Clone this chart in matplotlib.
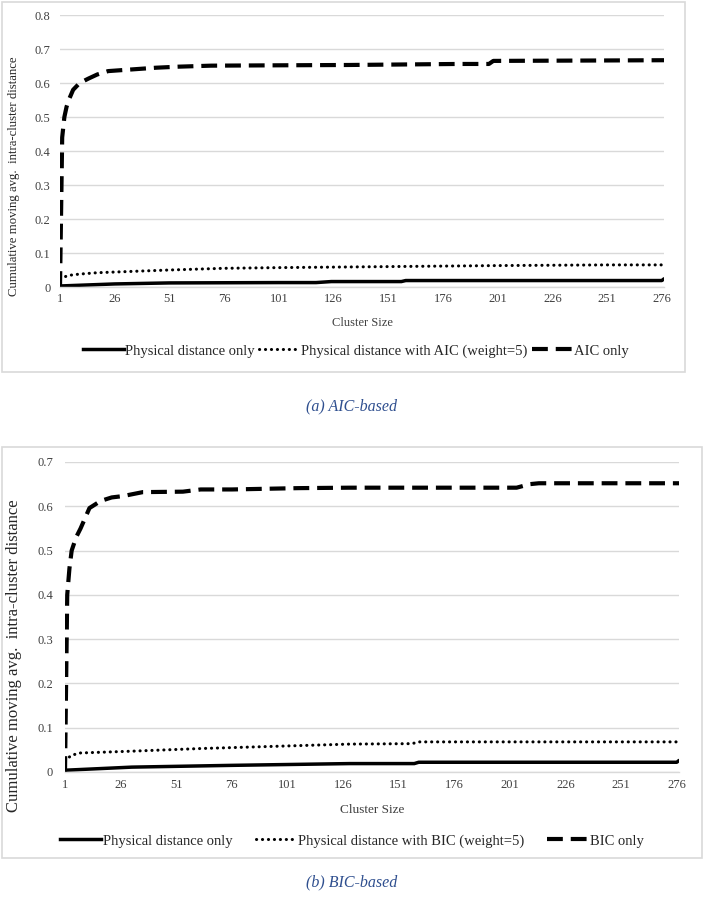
import matplotlib
matplotlib.use("Agg")
import matplotlib.pyplot as plt
from matplotlib.lines import Line2D
from matplotlib.patches import Rectangle

plt.rcParams['font.family'] = ['Liberation Serif', 'DejaVu Serif']

# ---------------- data ----------------
x_ticks = [1, 26, 51, 76, 101, 126, 151, 176, 201, 226, 251, 276]

# (a) AIC-based
aic_phys_x = [1, 26, 51, 101, 118, 125, 157, 159, 276, 277]
aic_phys_y = [0.003, 0.009, 0.012, 0.013, 0.013, 0.016, 0.016, 0.019, 0.019, 0.024]

aic_w_x = [1, 3, 6, 10, 18, 26, 51, 76, 101, 151, 201, 251, 276, 277]
aic_w_y = [0.025, 0.030, 0.035, 0.038, 0.042, 0.044, 0.050, 0.055, 0.057, 0.060, 0.063, 0.065, 0.065, 0.068]

aic_only_x = [1, 2, 3, 4, 5, 7, 10, 14, 18, 23, 34, 45, 55, 70, 100, 133, 183, 197, 199, 240, 277]
aic_only_y = [0.0, 0.44, 0.50, 0.53, 0.55, 0.58, 0.60, 0.613, 0.625, 0.635, 0.640, 0.645, 0.648,
              0.651, 0.652, 0.653, 0.656, 0.656, 0.665, 0.666, 0.667]

# (b) BIC-based
bic_phys_x = [1, 31, 76, 129, 158, 160, 276, 277]
bic_phys_y = [0.004, 0.011, 0.015, 0.019, 0.019, 0.022, 0.022, 0.026]

bic_w_x = [1, 2, 4, 8, 31, 62, 129, 157, 160, 276, 277]
bic_w_y = [0.025, 0.030, 0.038, 0.043, 0.047, 0.053, 0.063, 0.064, 0.068, 0.068, 0.074]

bic_only_x = [1, 2, 3, 4, 6, 8, 12, 17, 22, 27, 36, 54, 62, 76, 106, 129, 204, 210, 214, 277]
bic_only_y = [0.0, 0.40, 0.46, 0.50, 0.53, 0.55, 0.596, 0.612, 0.620, 0.623, 0.632, 0.633,
              0.638, 0.638, 0.641, 0.642, 0.642, 0.650, 0.652, 0.652]

# ---------------- figure ----------------
W, H = 703, 898
fig = plt.figure(figsize=(W / 100, H / 100), dpi=100)
GRID = '#D9D9D9'
CAPC = '#2F4F8F'
TXT = '#404040'

DOT_LW = 2.2
DOT = (0, (0.05, 1.9))
DASH = (0, (3.8, 1.9))


def fx(px):
    return px / W


def fy(py):
    return 1 - py / H


def frame(x0, y0, x1, y1):
    fig.patches.append(Rectangle((fx(x0), fy(y1)), fx(x1) - fx(x0), fy(y0) - fy(y1),
                                 transform=fig.transFigure, fill=False,
                                 edgecolor=GRID, linewidth=1.2, zorder=0))


def panel(rect_px, ymax, yticklabels, phys, w, only, wlabel, olabel,
          ypad, xpad, ylab_x, ylab_cy, fs_tick, fs_lab, fs_leg, fs_xlab,
          xlab_y, leg_y, leg_cx, colsp):
    x0, y0, x1, y1 = rect_px
    ax = fig.add_axes([fx(x0), fy(y1), fx(x1) - fx(x0), fy(y0) - fy(y1)])
    ax.plot(phys[0], phys[1], color='black', lw=2.5, solid_capstyle='round')
    ax.plot(w[0], w[1], color='black', lw=DOT_LW, linestyle=DOT, dash_capstyle='round')
    ax.plot(only[0], only[1], color='black', lw=3.0, linestyle=DASH, dash_capstyle='butt')
    ax.set_xlim(1, 277)
    ax.set_ylim(0, ymax)
    ax.set_xticks(x_ticks)
    ax.set_xticklabels([str(t) for t in x_ticks])
    yt = [i / 10 for i in range(len(yticklabels))]
    ax.set_yticks(yt)
    ax.set_yticklabels(yticklabels)
    ax.tick_params(axis='y', length=0, pad=ypad, labelsize=fs_tick, labelcolor=TXT)
    ax.tick_params(axis='x', length=0, pad=xpad, labelsize=fs_tick, labelcolor=TXT)
    ax.grid(axis='y', color=GRID, linewidth=1.0)
    ax.set_axisbelow(True)
    for s in ['left', 'right', 'top']:
        ax.spines[s].set_visible(False)
    ax.spines['bottom'].set_color(GRID)
    ax.spines['bottom'].set_linewidth(1.0)
    ax.set_ylabel('Cumulative moving avg.  intra-cluster distance', fontsize=fs_lab,
                  color='#262626')
    ax.yaxis.set_label_coords((ylab_x - x0) / (x1 - x0), (y1 - ylab_cy) / (y1 - y0))
    fig.text(fx((x0 + x1) / 2), fy(xlab_y), 'Cluster Size', ha='center', va='center',
             fontsize=fs_xlab, color=TXT)
    handles = [
        Line2D([], [], color='black', lw=2.5),
        Line2D([], [], color='black', lw=DOT_LW, linestyle=DOT, dash_capstyle='round'),
        Line2D([], [], color='black', lw=3.0, linestyle=DASH),
    ]
    labels = ['Physical distance only', wlabel, olabel]
    fig.legend(handles, labels, loc='center', bbox_to_anchor=(fx(leg_cx), fy(leg_y)),
               ncol=3, frameon=False, fontsize=fs_leg, handlelength=2.8,
               handletextpad=0.1, columnspacing=colsp, borderpad=0, labelcolor='#262626')
    return ax


# (a) AIC-based
frame(2, 2, 685, 372)
panel((60, 15, 664, 287), 0.8, ['0', '0.1', '0.2', '0.3', '0.4', '0.5', '0.6', '0.7', '0.8'],
      (aic_phys_x, aic_phys_y), (aic_w_x, aic_w_y), (aic_only_x, aic_only_y),
      'Physical distance with AIC (weight=5)', 'AIC only',
      ypad=7, xpad=4.5, ylab_x=20, ylab_cy=176, fs_tick=9, fs_lab=9.2, fs_leg=10.5,
      fs_xlab=9, xlab_y=323, leg_y=351, leg_cx=356, colsp=0.3)
fig.text(0.5, fy(406), '(a) AIC-based', ha='center', va='center', fontsize=11.5,
         style='italic', color=CAPC)

# (b) BIC-based
frame(2, 447, 702, 858)
panel((65, 462, 679, 772), 0.7, ['0', '0.1', '0.2', '0.3', '0.4', '0.5', '0.6', '0.7'],
      (bic_phys_x, bic_phys_y), (bic_w_x, bic_w_y), (bic_only_x, bic_only_y),
      'Physical distance with BIC (weight=5)', 'BIC only',
      ypad=8.5, xpad=5, ylab_x=22, ylab_cy=656, fs_tick=9, fs_lab=12, fs_leg=10.5,
      fs_xlab=9.5, xlab_y=810, leg_y=841, leg_cx=352, colsp=1.6)
fig.text(0.5, fy(882), '(b) BIC-based', ha='center', va='center', fontsize=11.5,
         style='italic', color=CAPC)

fig.savefig('out.png', dpi=100)
